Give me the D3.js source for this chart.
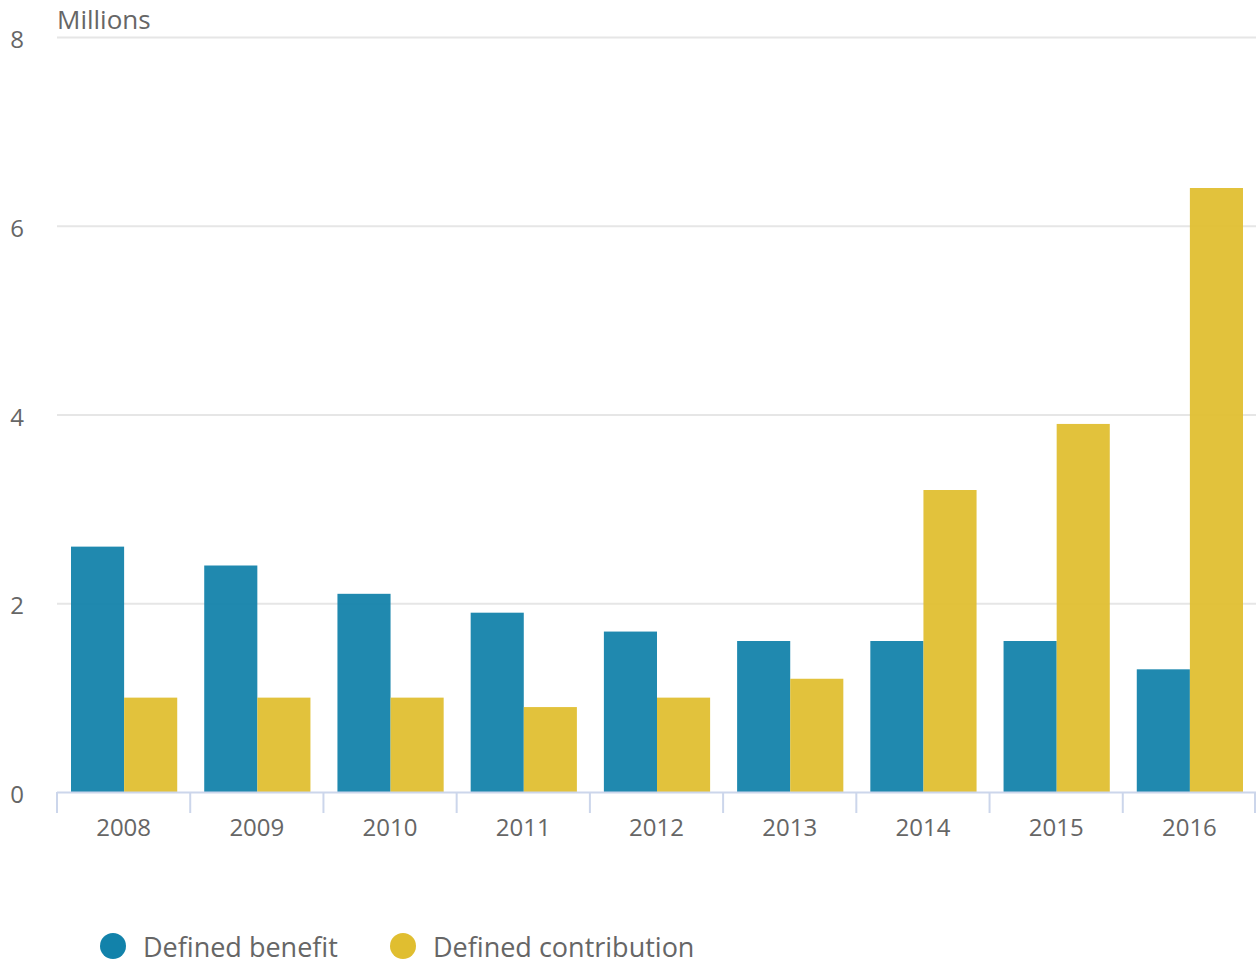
<!DOCTYPE html>
<html>
<head>
<meta charset="utf-8">
<script src="https://cdnjs.cloudflare.com/ajax/libs/d3/7.8.5/d3.min.js"></script>
<style>
body { margin: 0; background: #fff; font-family: "Open Sans", sans-serif; }
</style>
</head>
<body>
<div id="chart"></div>
<script>
var years = ["2008", "2009", "2010", "2011", "2012", "2013", "2014", "2015", "2016"];
var definedBenefit = [2.6, 2.4, 2.1, 1.9, 1.7, 1.6, 1.6, 1.6, 1.3];
var definedContribution = [1.0, 1.0, 1.0, 0.9, 1.0, 1.2, 3.2, 3.9, 6.4];
var yTicks = [0, 2, 4, 6, 8];
var seriesNames = ["Defined benefit", "Defined contribution"];
var colors = ["#1282aa", "#e0be30"];

var W = 1257, H = 964;
var margin = {top: 37, right: 1, bottom: 172, left: 57},
    width = W - margin.left - margin.right,
    height = H - margin.top - margin.bottom;

var svg = d3.select("#chart").append("svg")
    .attr("width", W)
    .attr("height", H);

var g = svg.append("g")
    .attr("transform", "translate(" + margin.left + "," + margin.top + ")");

var slot = width / years.length;

var y = d3.scaleLinear()
    .domain([0, 8])
    .range([height, 0]);

var xs = d3.scaleBand()
    .domain([0, 1])
    .range([14, slot - 13]);

// gridlines
g.selectAll(".grid")
    .data(yTicks.slice(1))
  .enter().append("line")
    .attr("x1", 0)
    .attr("x2", width)
    .attr("y1", function(d) { return y(d) + 0.5; })
    .attr("y2", function(d) { return y(d) + 0.5; })
    .attr("stroke", "#e6e6e6")
    .attr("stroke-width", 2);

// y labels
g.selectAll(".ylab")
    .data(yTicks)
  .enter().append("text")
    .attr("x", -40)
    .attr("y", function(d) { return y(d) + 11; })
    .attr("text-anchor", "middle")
    .attr("fill", "#666")
    .style("font-size", "24px")
    .text(function(d) { return d; });

g.append("text")
    .attr("x", 0)
    .attr("y", -8)
    .attr("fill", "#666")
    .style("font-size", "26px")
    .text("Millions");

// bars
var data = years.map(function(yr, i) {
  return {year: yr, values: [definedBenefit[i], definedContribution[i]]};
});

var groups = g.selectAll(".yr")
    .data(data)
  .enter().append("g")
    .attr("transform", function(d, i) { return "translate(" + (i * slot) + ",0)"; });

groups.selectAll("rect")
    .data(function(d) { return d.values; })
  .enter().append("rect")
    .attr("x", function(d, i) { return xs(i); })
    .attr("width", xs.bandwidth())
    .attr("y", function(d) { return y(d); })
    .attr("height", function(d) { return y(0) - y(d); })
    .attr("fill", function(d, i) { return colors[i]; })
    .attr("fill-opacity", 0.94);

// x axis
var ax = g.append("g").attr("transform", "translate(0," + height + ")");
ax.append("line")
    .attr("x1", 0).attr("x2", width)
    .attr("y1", 0.5).attr("y2", 0.5)
    .attr("stroke", "#ccd6eb")
    .attr("stroke-width", 2);
ax.selectAll(".tick")
    .data(d3.range(years.length + 1))
  .enter().append("line")
    .attr("x1", function(d) { return Math.min(d * slot, width - 1); })
    .attr("x2", function(d) { return Math.min(d * slot, width - 1); })
    .attr("y1", 0).attr("y2", 21)
    .attr("stroke", "#ccd6eb")
    .attr("stroke-width", 2);
ax.selectAll(".xlab")
    .data(years)
  .enter().append("text")
    .attr("x", function(d, i) { return i * slot + slot / 2; })
    .attr("y", 44)
    .attr("text-anchor", "middle")
    .attr("fill", "#666")
    .style("font-size", "24px")
    .text(function(d) { return d; });

// legend
var legX = [113, 403];
var leg = svg.selectAll(".leg")
    .data(seriesNames)
  .enter().append("g")
    .attr("transform", function(d, i) { return "translate(" + legX[i] + ",946)"; });
leg.append("circle")
    .attr("r", 13)
    .attr("fill", function(d, i) { return colors[i]; });
leg.append("text")
    .attr("x", 30)
    .attr("y", 11)
    .attr("fill", "#666")
    .style("font-size", "27px")
    .text(function(d) { return d; });
</script>
</body>
</html>
